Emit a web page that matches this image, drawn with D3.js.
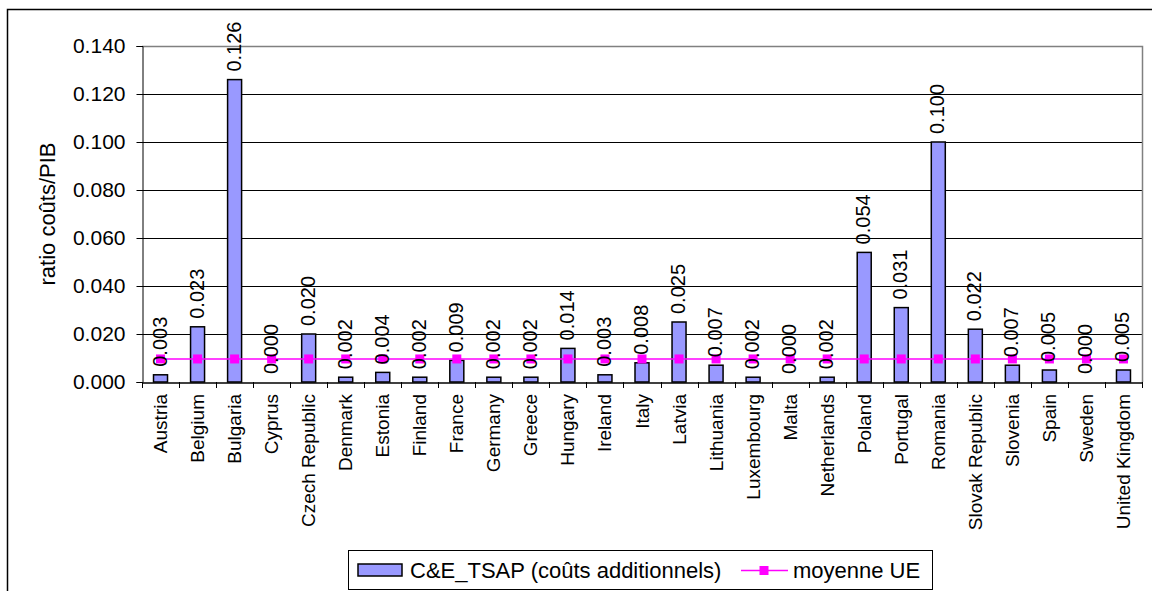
<!DOCTYPE html>
<html>
<head>
<meta charset="utf-8">
<script src="https://cdn.jsdelivr.net/npm/d3@7"></script>
<style>
  html, body { margin: 0; padding: 0; background: #fff; }
  svg { display: block; font-family: "Liberation Sans", Arial, sans-serif; }
</style>
</head>
<body>
<svg id="chart" width="1152" height="591"></svg>
<script>
const categories = ["Austria","Belgium","Bulgaria","Cyprus","Czech Republic","Denmark","Estonia","Finland","France","Germany","Greece","Hungary","Ireland","Italy","Latvia","Lithuania","Luxembourg","Malta","Netherlands","Poland","Portugal","Romania","Slovak Republic","Slovenia","Spain","Sweden","United Kingdom"];
const costValues = [0.003,0.023,0.126,0.000,0.020,0.002,0.004,0.002,0.009,0.002,0.002,0.014,0.003,0.008,0.025,0.007,0.002,0.000,0.002,0.054,0.031,0.100,0.022,0.007,0.005,0.000,0.005];
const euAverage = [0.0096,0.0096,0.0096,0.0096,0.0096,0.0096,0.0096,0.0096,0.0096,0.0096,0.0096,0.0096,0.0096,0.0096,0.0096,0.0096,0.0096,0.0096,0.0096,0.0096,0.0096,0.0096,0.0096,0.0096,0.0096,0.0096,0.0096];
const yTicks = [0,0.02,0.04,0.06,0.08,0.10,0.12,0.14];
const seriesNames = ["C&E_TSAP (coûts additionnels)", "moyenne UE"];
const yTitle = "ratio coûts/PIB";

(function () {
const svg = d3.select("#chart");
const W = 1152, H = 591;
const mLeft = 142, mRight = 1142, mTop = 46, mBottom = 382;
const barColor = "#9999FF", lineColor = "#FF00FF";
const fmt = d3.format(".3f");

svg.append("rect").attr("x",0).attr("y",0).attr("width",W).attr("height",H).attr("fill","#fff");
// outer chart border (extends past viewport right/bottom)
svg.append("rect").attr("x",7.5).attr("y",9.5).attr("width",1160).attr("height",620)
  .attr("fill","none").attr("stroke","#000").attr("stroke-width",1.5);

const x = d3.scaleBand().domain(categories).range([mLeft, mRight]).paddingInner(0).paddingOuter(0);
const y = d3.scaleLinear().domain([0, 0.14]).range([mBottom, mTop]);

// gridlines
svg.append("g").selectAll("line").data(yTicks.filter(t => t > 0 && t < 0.14)).join("line")
  .attr("x1", mLeft).attr("x2", mRight)
  .attr("y1", d => Math.round(y(d)) + 0.5).attr("y2", d => Math.round(y(d)) + 0.5)
  .attr("stroke", "#000").attr("stroke-width", 1);
// plot area top & right edges (grey)
svg.append("path")
  .attr("d", `M${mLeft},${Math.round(y(0.14))+0.5}H${mRight+0.5}V${mBottom}`)
  .attr("fill","none").attr("stroke","#808080").attr("stroke-width",1.5);

// y axis
const yAxis = d3.axisLeft(y).tickValues(yTicks).tickFormat(fmt).tickSize(6).tickPadding(11);
const gy = svg.append("g").attr("transform", `translate(${mLeft+0.5},0)`).call(yAxis);
gy.select(".domain").attr("stroke","#000");
gy.selectAll(".tick line").attr("stroke","#000");
gy.selectAll(".tick text").attr("font-size", 21).attr("fill","#000")
  .attr("font-family", '"Liberation Sans", Arial, sans-serif');

// bars
const bw = 14;
svg.append("g").selectAll("rect").data(categories).join("rect")
  .attr("x", (d) => x(d) + x.bandwidth()/2 - bw/2)
  .attr("y", (d,i) => y(costValues[i]))
  .attr("width", bw)
  .attr("height", (d,i) => y(0) - y(costValues[i]))
  .attr("fill", barColor).attr("stroke", "#000").attr("stroke-width", 1.5);

// x axis
const xAxis = d3.axisBottom(x).tickSize(0).tickFormat("");
const gx = svg.append("g").attr("transform", `translate(0,${mBottom+0.5})`).call(xAxis);
gx.select(".domain").attr("stroke","#000").attr("stroke-width",1.5);
svg.append("g").selectAll("line").data(categories.concat(["__end"])).join("line")
  .attr("x1", (d,i) => Math.round(mLeft + i*x.step()) + 0.5)
  .attr("x2", (d,i) => Math.round(mLeft + i*x.step()) + 0.5)
  .attr("y1", mBottom).attr("y2", mBottom + 6)
  .attr("stroke","#000");

// x labels
svg.append("g").selectAll("text").data(categories).join("text")
  .attr("transform", d => `translate(${x(d)+x.bandwidth()/2},${mBottom+12}) rotate(-90)`)
  .attr("text-anchor","end").attr("dominant-baseline","central")
  .attr("font-size", 19).attr("fill","#000").text(d => d);

// EU average line
const line = d3.line().x((d,i) => x(categories[i]) + x.bandwidth()/2).y(d => y(d));
svg.append("path").datum(euAverage).attr("d", line)
  .attr("fill","none").attr("stroke", lineColor).attr("stroke-width", 1.5);
svg.append("g").selectAll("rect").data(euAverage).join("rect")
  .attr("x", (d,i) => x(categories[i]) + x.bandwidth()/2 - 4.5)
  .attr("y", d => y(d) - 4.5)
  .attr("width", 9).attr("height", 9).attr("fill", lineColor);

// data labels
svg.append("g").selectAll("text").data(costValues).join("text")
  .attr("transform", (d,i) => `translate(${x(categories[i])+x.bandwidth()/2-1},${y(d)-8}) rotate(-90)`)
  .attr("text-anchor","start").attr("dominant-baseline","central")
  .attr("font-size", 20).attr("fill","#000").text(d => fmt(d));

// y title
svg.append("text")
  .attr("transform", `translate(47,${(mTop+mBottom)/2}) rotate(-90)`)
  .attr("text-anchor","middle").attr("dominant-baseline","central")
  .attr("font-size", 22).attr("fill","#000").text(yTitle);

// legend
const lg = svg.append("g");
lg.append("rect").attr("x",348.5).attr("y",550.5).attr("width",584).attr("height",39)
  .attr("fill","#fff").attr("stroke","#000").attr("stroke-width",1);
lg.append("rect").attr("x",358).attr("y",564).attr("width",44).attr("height",12)
  .attr("fill",barColor).attr("stroke","#000").attr("stroke-width",1.5);
lg.append("text").attr("x",410).attr("y",570).attr("dominant-baseline","central")
  .attr("font-size",22).attr("fill","#000").text(seriesNames[0]);
lg.append("line").attr("x1",741).attr("x2",788).attr("y1",570.5).attr("y2",570.5)
  .attr("stroke",lineColor).attr("stroke-width",1.5);
lg.append("rect").attr("x",759.5).attr("y",566).attr("width",9).attr("height",9).attr("fill",lineColor);
lg.append("text").attr("x",793).attr("y",570).attr("dominant-baseline","central")
  .attr("font-size",22).attr("fill","#000").text(seriesNames[1]);
})();
</script>
</body>
</html>
